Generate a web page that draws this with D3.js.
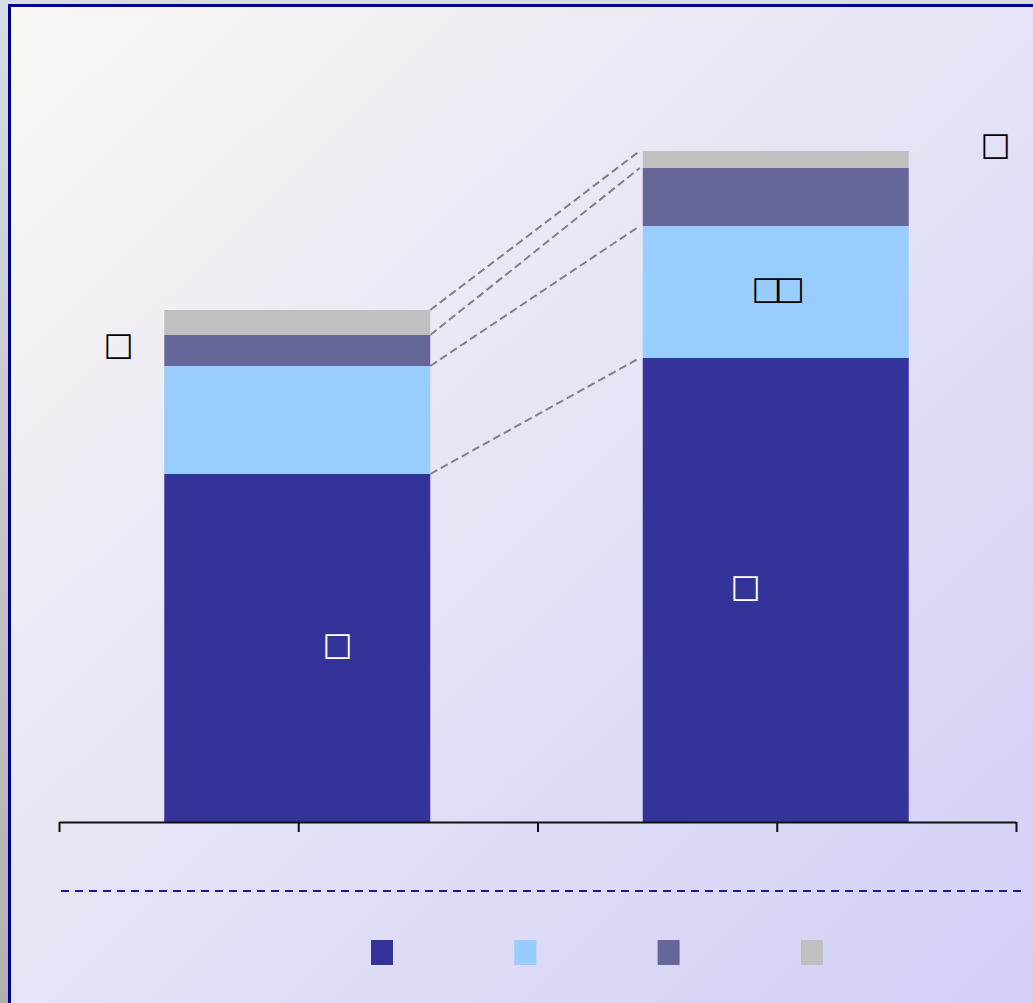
<!DOCTYPE html>
<html>
<head>
<meta charset="utf-8">
<script src="https://cdn.jsdelivr.net/npm/d3@7"></script>
<style>
  html, body { margin: 0; padding: 0; }
  body { width: 1033px; height: 1003px; overflow: hidden;
         background: linear-gradient(#d8dce4, #b0b0b0); }
  svg { display: block; }
</style>
</head>
<body>
<div id="chart"></div>
<script>
// data
const categories = ['A', 'B'];
const seriesNames = ['s1', 's2', 's3', 's4'];
const seriesColors = ['#333399', '#99ccff', '#666699', '#c0c0c0'];
const valuesA = [69.6, 21.6, 6.2, 5.0];
const valuesB = [92.8, 26.4, 11.6, 3.4];
const xTicks = [0, 1, 2, 3, 4];
const barPos = [1, 3];

const width = 1033;
const height = 1003;

const svg = d3.select('#chart')
    .append('svg')
    .attr('width', width)
    .attr('height', height);

// panel background
const defs = svg.append('defs');
const grad = defs.append('linearGradient')
    .attr('id', 'bg')
    .attr('x1', '0%').attr('y1', '0%')
    .attr('x2', '100%').attr('y2', '100%');
grad.append('stop').attr('offset', '0%').attr('stop-color', '#f9f8f3');
grad.append('stop').attr('offset', '50%').attr('stop-color', '#e4e2f5');
grad.append('stop').attr('offset', '100%').attr('stop-color', '#d0cef6');

svg.append('rect')
    .attr('x', 9.5)
    .attr('y', 5.5)
    .attr('width', 1060)
    .attr('height', 1040)
    .attr('fill', 'url(#bg)')
    .attr('stroke', '#000088')
    .attr('stroke-width', 3);

const x = d3.scaleLinear().domain([0, 4]).range([59, 1016]);
const y = d3.scaleLinear().domain([0, 160]).range([822, 22]);
const barWidth = 266;

const rows = [valuesA, valuesB];
const stacked = rows.map((vals, i) => {
    let acc = 0;
    return vals.map((v, j) => {
        const d = { cat: categories[i], pos: barPos[i], key: seriesNames[j], y0: acc, y1: acc + v };
        acc += v;
        return d;
    });
});

// connector lines between segment tops
const conn = svg.append('g');
seriesNames.forEach((s, j) => {
    const a = stacked[0][j];
    const b = stacked[1][j];
    conn.append('line')
        .attr('x1', x(a.pos) + barWidth / 2 - 1)
        .attr('y1', y(a.y1))
        .attr('x2', x(b.pos) - barWidth / 2 - 4)
        .attr('y2', y(b.y1))
        .attr('stroke', '#80808c')
        .attr('stroke-width', 2)
        .attr('stroke-dasharray', '8,4');
});

// bars
svg.append('g')
    .attr('transform', 'translate(-1,0)')
    .selectAll('g')
    .data(stacked)
    .join('g')
    .selectAll('rect')
    .data((d) => d)
    .join('rect')
    .attr('x', (d) => x(d.pos) - barWidth / 2)
    .attr('y', (d) => y(d.y1))
    .attr('width', barWidth)
    .attr('height', (d) => y(d.y0) - y(d.y1))
    .attr('fill', (d) => seriesColors[seriesNames.indexOf(d.key)]);

// axis
const axis = d3.axisBottom(x)
    .tickValues(xTicks)
    .tickFormat('')
    .tickSize(10)
    .tickSizeOuter(0);
const gx = svg.append('g')
    .attr('transform', `translate(0,${y(0)})`)
    .call(axis);
gx.select('.domain').attr('stroke', '#111').attr('stroke-width', 2);
gx.selectAll('.tick line').attr('stroke', '#111').attr('stroke-width', 2);

// dashed separator
svg.append('line')
    .attr('x1', 61).attr('x2', 1025)
    .attr('y1', 891).attr('y2', 891)
    .attr('stroke', '#1a1a8c')
    .attr('stroke-width', 2)
    .attr('stroke-dasharray', '8,6');

// labels
const font = 'DejaVu Sans, sans-serif';
const label = (tx, ty, t, col) => svg.append('text')
    .attr('x', tx).attr('y', ty)
    .attr('text-anchor', 'middle')
    .attr('dominant-baseline', 'central')
    .style('font-family', font)
    .style('font-size', '32px')
    .style('letter-spacing', '-7px')
    .attr('fill', col)
    .text(t);

label(115, 344, '\u25A1', '#000');
label(992, 144, '\u25A1', '#000');
label(x(barPos[1]) - 2, y(valuesB[0] + valuesB[1] / 2) - 4, '\u25A1\u25A1', '#000');
label(334, y(valuesA[0] / 2) - 4, '\u25A1', '#fff');
label(742, y(valuesB[0] / 2) - 4, '\u25A1', '#fff');

// legend
svg.append('g')
    .selectAll('rect')
    .data(seriesNames)
    .join('rect')
    .attr('x', (d, i) => 371 + i * 143.3)
    .attr('y', 940)
    .attr('width', 22)
    .attr('height', 25)
    .attr('fill', (d, i) => seriesColors[i]);
</script>
</body>
</html>
